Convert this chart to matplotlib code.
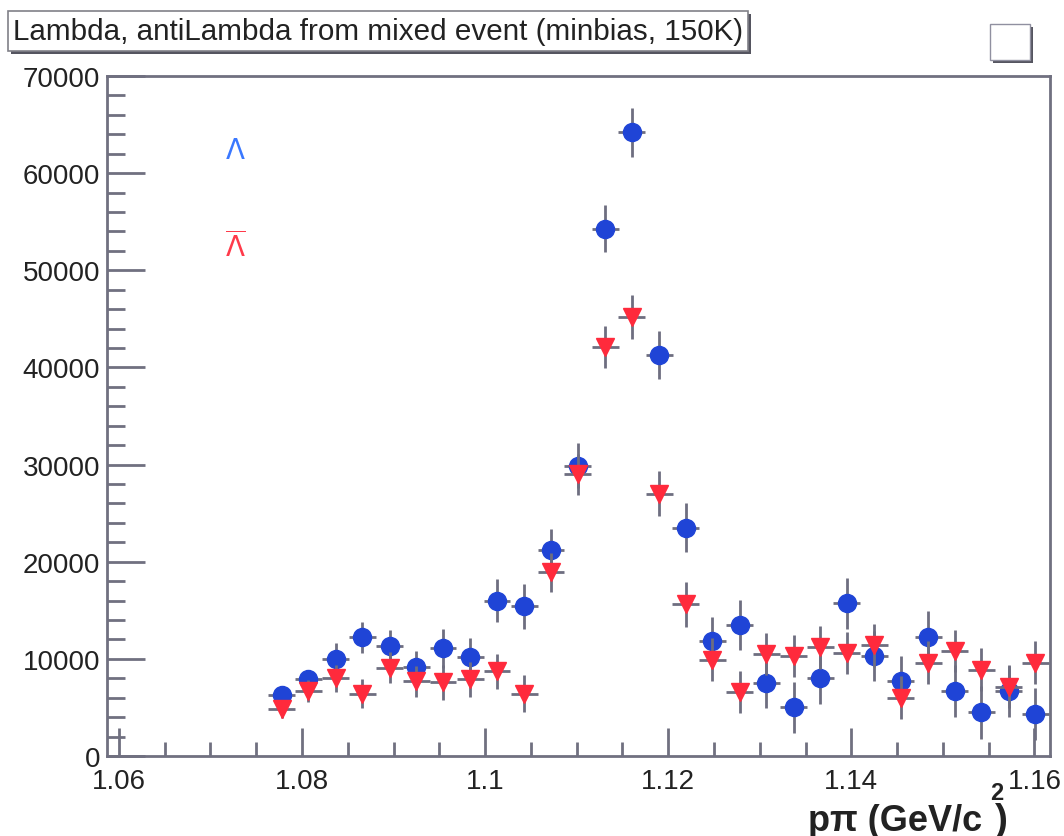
import matplotlib
matplotlib.use("Agg")
import matplotlib.pyplot as plt
from matplotlib.patches import Rectangle
from matplotlib.ticker import MultipleLocator, FixedLocator

# ---- data ----
mass = [1.0778, 1.0807, 1.0837, 1.0866, 1.0896, 1.0925, 1.0954, 1.0984, 1.1013, 1.1043,
        1.1072, 1.1101, 1.1131, 1.1160, 1.1190, 1.1219, 1.1248, 1.1278, 1.1307, 1.1337,
        1.1366, 1.1395, 1.1425, 1.1454, 1.1484, 1.1513, 1.1542, 1.1572, 1.1601]
lam = [6300, 7900, 10000, 12200, 11300, 9200, 11100, 10200, 16000, 15400,
       21200, 29900, 54300, 64200, 41300, 23500, 11800, 13500, 7500, 5000,
       8000, 15700, 10300, 7700, 12300, 6700, 4500, 6700, 4300]
lam_err = [800, 1000, 1600, 1600, 1700, 1600, 2000, 1900, 2200, 2300,
           2200, 2300, 2400, 2500, 2500, 2500, 2500, 2600, 2600, 2600,
           2600, 2600, 2600, 2600, 2600, 2700, 2700, 2700, 2700]
alam = [4800, 6700, 8000, 6400, 9100, 7700, 7600, 7900, 8700, 6400,
        18900, 29000, 42100, 45200, 27000, 15600, 9900, 6600, 10500, 10300,
        11200, 10600, 11400, 6000, 9600, 10800, 8900, 7100, 9600]
alam_err = [900, 1100, 1400, 1500, 1600, 1600, 1800, 1800, 1800, 1900,
            2000, 2100, 2200, 2300, 2300, 2300, 2200, 2200, 2200, 2200,
            2200, 2200, 2200, 2200, 2200, 2200, 2200, 2200, 2200]
half_bin = 0.00147
xticks = [1.06, 1.08, 1.1, 1.12, 1.14, 1.16]
xtick_labels = ["1.06", "1.08", "1.1", "1.12", "1.14", "1.16"]
yticks = [0, 10000, 20000, 30000, 40000, 50000, 60000, 70000]
title = "Lambda, antiLambda from mixed event (minbias, 150K)"

plt.rcParams['font.family'] = ['Liberation Sans', 'DejaVu Sans']

W, H = 1064, 837
fig = plt.figure(figsize=(W / 100, H / 100), dpi=100)
ax = fig.add_axes([107 / W, 1 - 757 / H, (1050 - 107) / W, (757 - 77) / H])

frame_col = '#707080'
err_col = '#6e6e80'
blue = '#1f44d6'
red = '#ff2a3c'

ax.errorbar(mass, lam, yerr=lam_err, xerr=half_bin, fmt='o', color=blue,
            markersize=13, ecolor=err_col, elinewidth=2, capsize=0, zorder=3)
ax.errorbar(mass, alam, yerr=alam_err, xerr=half_bin, fmt='v', color=red,
            markersize=13, ecolor=err_col, elinewidth=2, capsize=0, zorder=4)

ax.set_xlim(1.0587, 1.1617)
ax.set_ylim(0, 70000)

ax.xaxis.set_major_locator(FixedLocator(xticks))
ax.set_xticklabels(xtick_labels)
ax.xaxis.set_minor_locator(MultipleLocator(0.005))
ax.yaxis.set_major_locator(FixedLocator(yticks))
ax.yaxis.set_minor_locator(MultipleLocator(2000))

ax.tick_params(axis='both', which='both', direction='in', top=False, right=False,
               color=frame_col, width=2)
ax.tick_params(axis='y', which='major', length=27, labelsize=20, pad=5)
ax.tick_params(axis='y', which='minor', length=13)
ax.tick_params(axis='x', which='major', length=20, labelsize=20, pad=9)
ax.tick_params(axis='x', which='minor', length=10)
for lab in ax.get_xticklabels() + ax.get_yticklabels():
    lab.set_color('#222222')
for sp in ax.spines.values():
    sp.set_color(frame_col)
    sp.set_linewidth(2)

# legend-like symbols in the plot
ax.text(1.0727, 62300, r'$\Lambda$', color='#3a78ff', fontsize=20, ha='center', va='center')
ax.text(1.0727, 52500, r'$\overline{\Lambda}$', color='#ff3a4a', fontsize=20, ha='center', va='center')

# x axis title (ROOT style: p#pi (GeV/c^{2}))
fig.text(808 / W, 1 - 831 / H, 'pπ (GeV/c', fontsize=26, ha='left', va='baseline',
         color='#222222', fontweight='bold')
fig.text(990 / W, 1 - 800 / H, '2', fontsize=17, ha='left', va='baseline',
         color='#222222', fontweight='bold')
fig.text(1008 / W, 1 - 831 / H, ')', fontsize=28, ha='right', va='baseline',
         color='#222222', fontweight='bold')

# title box with shadow
fig.patches.append(Rectangle((11 / W, 1 - 55 / H), 740 / W, 40 / H, transform=fig.transFigure,
                             facecolor='#555560', edgecolor='none', zorder=1))
fig.patches.append(Rectangle((8 / W, 1 - 52 / H), 740 / W, 40 / H, transform=fig.transFigure,
                             facecolor='white', edgecolor='#808088', linewidth=1.2, zorder=2))
fig.text(13 / W, 1 - 32 / H, title, fontsize=21.3, ha='left', va='center', color='#222222')

# small empty box at top right
fig.patches.append(Rectangle((993 / W, 1 - 64 / H), 40 / W, 36 / H, transform=fig.transFigure,
                             facecolor='#555560', edgecolor='none', zorder=1))
fig.patches.append(Rectangle((990 / W, 1 - 61 / H), 40 / W, 36 / H, transform=fig.transFigure,
                             facecolor='white', edgecolor='#9090a0', linewidth=1, zorder=2))

fig.savefig('out.png', dpi=100)
